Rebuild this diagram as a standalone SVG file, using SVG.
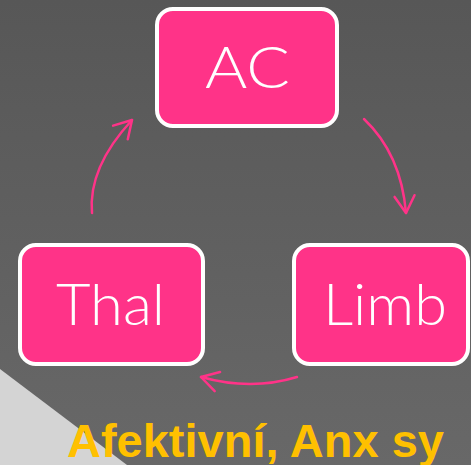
<svg xmlns="http://www.w3.org/2000/svg" width="471" height="465" viewBox="0 0 471 465">
  <defs>
    <linearGradient id="bg" x1="0" y1="0" x2="0" y2="1">
      <stop offset="0" stop-color="#575757"/>
      <stop offset="1" stop-color="#686868"/>
    </linearGradient>
    <marker id="arrow" markerUnits="userSpaceOnUse" markerWidth="40" markerHeight="40" refX="0" refY="0" viewBox="-20 -20 40 40" orient="auto" overflow="visible">
      <path d="M-17,-10 L0,0 L-17,10" fill="none" stroke="#FF3388" stroke-width="2.5" stroke-linecap="round" stroke-linejoin="round"/>
    </marker>
  </defs>
  <style>
    .box { fill: #FF3388; stroke: #FFFFFF; stroke-width: 4; }
    .label { fill: #FFFFFF; font-family: Lato, "Open Sans", "DejaVu Sans", sans-serif; font-weight: 300; font-size: 58px; }
    .conn { fill: none; stroke: #FF3388; stroke-width: 2.5; stroke-linecap: round; marker-end: url(#arrow); }
    .caption { fill: #FFC000; font-family: "Liberation Sans", Arial, sans-serif; font-weight: bold; font-size: 47px; }
  </style>
  <rect x="0" y="0" width="471" height="465" fill="url(#bg)"/>
  <polygon points="0,369 127,465 0,465" fill="#D4D4D4"/>
  <g id="connectors">
    <path class="conn" d="M92,213 Q88,167.5 132,120"/>
    <path class="conn" d="M364,119 Q401,154 406,213"/>
    <path class="conn" d="M297,377 Q251,391 201,377"/>
  </g>
  <g id="node-ac">
    <rect class="box" x="157" y="9" width="180" height="117" rx="16" ry="16"/>
    <text class="label" x="205" y="88" textLength="85" lengthAdjust="spacingAndGlyphs">AC</text>
  </g>
  <g id="node-thal">
    <rect class="box" x="20" y="245" width="183" height="119" rx="16" ry="16"/>
    <text class="label" x="56" y="325" textLength="109" lengthAdjust="spacingAndGlyphs">Thal</text>
  </g>
  <g id="node-limb">
    <rect class="box" x="294" y="245" width="174" height="119" rx="16" ry="16"/>
    <text class="label" x="323" y="325" textLength="124" lengthAdjust="spacingAndGlyphs">Limb</text>
  </g>
  <text class="caption" x="67" y="457">Afektivní, Anx sy</text>
</svg>
